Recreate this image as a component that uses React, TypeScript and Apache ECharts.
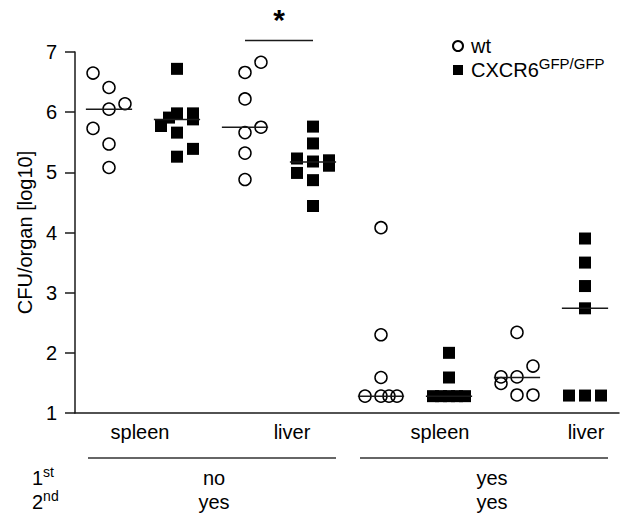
import React, { useEffect, useRef } from 'react';
import * as echarts from 'echarts';

// ---- data ----
const organLabels = ['spleen', 'liver', 'spleen', 'liver'];
const firstInfection = ['no', 'yes'];
const secondInfection = ['yes', 'yes'];
const seriesNames = ['wt', 'CXCR6GFP/GFP'];
const yTicks = [1, 2, 3, 4, 5, 6, 7];

// wt (open circles); *Col = dot column within the jittered group
const wtSpleenNo = [6.65, 6.41, 6.05, 6.14, 5.73, 5.47, 5.08];
const wtSpleenNoCol = [-1, 0, 0, 1, -1, 0, 0];
const wtLiverNo = [6.83, 6.66, 6.22, 5.75, 5.66, 5.32, 4.88];
const wtLiverNoCol = [1, 0, 0, 1, 0, 0, 0];
const wtSpleenYes = [4.08, 2.3, 1.59, 1.28, 1.28, 1.28, 1.28];
const wtSpleenYesCol = [0, 0, 0, -1, 0, 0.5, 1];
const wtLiverYes = [2.34, 1.78, 1.6, 1.6, 1.49, 1.3, 1.3];
const wtLiverYesCol = [0, 1, -1, 0, -1, 0, 1];

// CXCR6 GFP/GFP (filled squares)
const koSpleenNo = [6.72, 5.98, 5.91, 5.98, 5.88, 5.77, 5.66, 5.39, 5.26];
const koSpleenNoCol = [0, 0, -0.5, 1, 1, -1, 0, 1, 0];
const koLiverNo = [5.76, 5.48, 5.23, 5.2, 5.11, 5.18, 4.99, 4.87, 4.44];
const koLiverNoCol = [0, 0, -1, 1, 1, 0, -1, 0, 0];
const koSpleenYes = [2.0, 1.59, 1.28, 1.28, 1.28, 1.28, 1.28];
const koSpleenYesCol = [0, 0, -1, -0.5, 0, 0.5, 1];
const koLiverYes = [3.9, 3.5, 3.11, 2.74, 1.29, 1.29, 1.29];
const koLiverYesCol = [0, 0, 0, 0, -1, 0, 1];

const wtMedians = [6.05, 5.75, 1.28, 1.59];
const koMedians = [5.88, 5.17, 1.28, 2.74];

// significance bracket: [from slot, to slot, height]
const sigBrackets = [[2, 3, 7.19]];
const sigLabels = ['*'];

// ---- style ----
const FONT = '"Liberation Sans", Arial, Helvetica, sans-serif';
const INK = '#1a1a1a';
const JIT = 0.235; // column spacing in slot units
const HALF = 0.34; // median line half width in slot units

const wtGroups = [
  [wtSpleenNo, wtSpleenNoCol],
  [wtLiverNo, wtLiverNoCol],
  [wtSpleenYes, wtSpleenYesCol],
  [wtLiverYes, wtLiverYesCol],
];
const koGroups = [
  [koSpleenNo, koSpleenNoCol],
  [koLiverNo, koLiverNoCol],
  [koSpleenYes, koSpleenYesCol],
  [koLiverYes, koLiverYesCol],
];

function buildPoints(groups: number[][][], offset: number) {
  const out: number[][] = [];
  groups.forEach(([vals, cols], g) => {
    vals.forEach((v, i) => out.push([2 * g + offset + cols[i] * JIT, v]));
  });
  return out;
}

export default function App() {
  const ref = useRef<HTMLDivElement>(null);
  useEffect(() => {
    if (!ref.current) return;
    const chart = echarts.init(ref.current, null, { renderer: 'svg' });
    const medianData: number[][] = [];
    wtMedians.forEach((m, g) => medianData.push([2 * g, m]));
    koMedians.forEach((m, g) => medianData.push([2 * g + 1, m]));

    const textStyleBase = { fontFamily: FONT, fontSize: 20, fill: '#000' };
    const organX = [140, 292, 440, 586];
    const graphic: any[] = [];
    organLabels.forEach((t, i) =>
      graphic.push({ type: 'text', x: organX[i], y: 432, style: { ...textStyleBase, text: t, align: 'center', verticalAlign: 'middle' } })
    );
    graphic.push({ type: 'line', shape: { x1: 88, y1: 458, x2: 336, y2: 458 }, style: { stroke: '#333', lineWidth: 1.5 } });
    graphic.push({ type: 'line', shape: { x1: 360, y1: 458, x2: 608, y2: 458 }, style: { stroke: '#333', lineWidth: 1.5 } });
    const condX = [214, 492];
    firstInfection.forEach((t, i) =>
      graphic.push({ type: 'text', x: condX[i], y: 478, style: { ...textStyleBase, text: t, align: 'center', verticalAlign: 'middle' } })
    );
    secondInfection.forEach((t, i) =>
      graphic.push({ type: 'text', x: condX[i], y: 502, style: { ...textStyleBase, text: t, align: 'center', verticalAlign: 'middle' } })
    );
    const supRich = {
      a: { fontFamily: FONT, fontSize: 20, color: '#000', lineHeight: 26 },
      s: { fontFamily: FONT, fontSize: 14, color: '#000', lineHeight: 14, verticalAlign: 'top' },
    };
    graphic.push({ type: 'text', x: 32, y: 478, style: { text: '{a|1}{s|st}', rich: supRich, align: 'left', verticalAlign: 'middle' } });
    graphic.push({ type: 'text', x: 32, y: 502, style: { text: '{a|2}{s|nd}', rich: supRich, align: 'left', verticalAlign: 'middle' } });

    chart.setOption({
      animation: false,
      grid: { left: 75, right: 5, top: 52, bottom: 103, containLabel: false },
      xAxis: {
        type: 'value',
        min: -0.5,
        max: 7.5,
        axisLine: { show: true, onZero: false, lineStyle: { color: INK, width: 1.5 } },
        axisTick: { show: false },
        axisLabel: { show: false },
        splitLine: { show: false },
      },
      yAxis: {
        type: 'value',
        min: yTicks[0],
        max: yTicks[yTicks.length - 1],
        interval: 1,
        name: 'CFU/organ [log10]',
        nameLocation: 'middle',
        nameRotate: 90,
        nameGap: 38,
        nameTextStyle: { fontFamily: FONT, fontSize: 20, color: '#000' },
        axisLine: { show: true, onZero: false, lineStyle: { color: INK, width: 1.5 } },
        axisTick: { show: true, length: 10, lineStyle: { color: INK, width: 1.5 } },
        axisLabel: { fontFamily: FONT, fontSize: 20, color: '#000', margin: 18 },
        splitLine: { show: false },
      },
      legend: {
        orient: 'vertical',
        left: 447,
        top: 31,
        itemWidth: 10,
        itemHeight: 10,
        itemGap: 0,
        data: [
          { name: seriesNames[0], icon: 'circle' },
          { name: seriesNames[1], icon: 'rect' },
        ],
        formatter: (name: string) => (name === seriesNames[0] ? '{a|wt}' : '{a|CXCR6}{s|GFP/GFP}'),
        textStyle: {
          padding: [0, 0, 0, 3],
          rich: {
            a: { fontFamily: FONT, fontSize: 20, color: '#000', lineHeight: 28 },
            s: { fontFamily: FONT, fontSize: 15, color: '#000', lineHeight: 14, verticalAlign: 'top' },
          },
        },
      },
      series: [
        {
          name: seriesNames[0],
          type: 'scatter',
          symbol: 'circle',
          symbolSize: 12,
          itemStyle: { color: 'rgba(0,0,0,0)', borderColor: '#000', borderWidth: 1.5, opacity: 1 },
          data: buildPoints(wtGroups as any, 0),
          z: 3,
        },
        {
          name: seriesNames[1],
          type: 'scatter',
          symbol: 'rect',
          symbolSize: 12,
          itemStyle: { color: '#000', opacity: 1 },
          data: buildPoints(koGroups as any, 1),
          z: 3,
        },
        {
          type: 'custom',
          z: 5,
          clip: false,
          encode: { x: 0, y: 1 },
          data: medianData,
          renderItem: (params: any, api: any) => {
            const c = api.coord([api.value(0), api.value(1)]);
            const half = api.size([HALF, 0])[0];
            return {
              type: 'line',
              shape: { x1: c[0] - half, y1: c[1], x2: c[0] + half, y2: c[1] },
              style: { stroke: INK, lineWidth: 1.5 },
            };
          },
        },
        {
          type: 'custom',
          z: 5,
          clip: false,
          encode: { x: [0, 1], y: 2 },
          data: sigBrackets,
          renderItem: (params: any, api: any) => {
            const p1 = api.coord([api.value(0), api.value(2)]);
            const p2 = api.coord([api.value(1), api.value(2)]);
            return {
              type: 'group',
              children: [
                { type: 'line', shape: { x1: p1[0], y1: p1[1], x2: p2[0], y2: p2[1] }, style: { stroke: INK, lineWidth: 1.5 } },
                {
                  type: 'text',
                  x: (p1[0] + p2[0]) / 2,
                  y: p1[1] - 21,
                  style: { text: sigLabels[params.dataIndex], fontFamily: FONT, fontSize: 30, fontWeight: 'bold', fill: '#000', align: 'center', verticalAlign: 'middle' },
                },
              ],
            };
          },
        },
      ],
      graphic,
    });
    return () => chart.dispose();
  }, []);
  return <div ref={ref} style={{ position: 'fixed', left: 0, top: 0, width: 624, height: 516, background: '#fff' }} />;
}
